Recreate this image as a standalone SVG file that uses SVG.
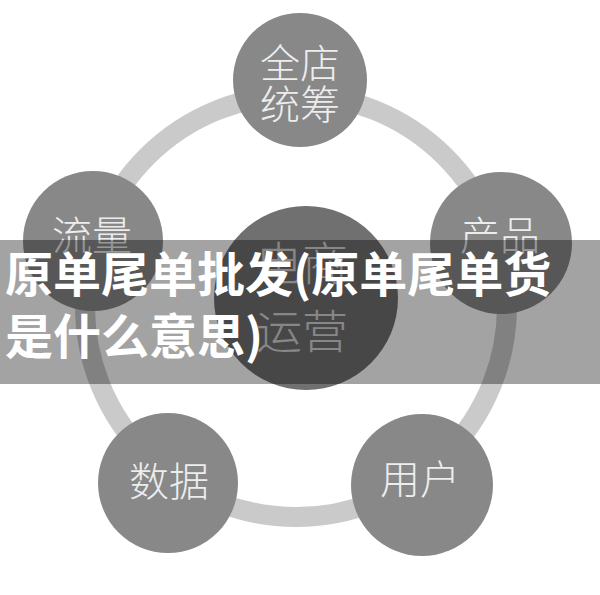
<svg xmlns="http://www.w3.org/2000/svg" width="600" height="595" viewBox="0 0 600 595">
<style>
.ring{fill:none;stroke:#cacaca;stroke-width:20}
.outer{fill:#888888}
.center{fill:#707070}
.lbl{font-family:"Noto Sans CJK SC","Noto Sans",sans-serif;font-weight:300;font-size:40px;fill:#ededed;text-anchor:middle}
.clbl{font-family:"Noto Sans CJK SC","Noto Sans",sans-serif;font-weight:300;font-size:46px;fill:#d4d4d4;text-anchor:middle}
.banner{fill:#000;fill-opacity:0.36}
.btxt{font-family:"Noto Sans CJK SC","Noto Sans",sans-serif;font-weight:700;font-size:48px;fill:#ffffff}
</style>
<rect width="600" height="595" fill="#ffffff"/>
<g id="connectors">
<circle class="ring" cx="296" cy="306" r="211"/>
</g>
<g id="node-center">
<circle class="center" cx="306" cy="298" r="92"/>
<text class="clbl" x="302" y="280">电商</text>
<text class="clbl" x="302" y="348">运营</text>
</g>
<g id="node-top">
<circle class="outer" cx="300" cy="80" r="67"/>
<text class="lbl" x="300" y="78">全店</text>
<text class="lbl" x="300" y="119">统筹</text>
</g>
<g id="node-left">
<circle class="outer" cx="93" cy="241" r="70"/>
<text class="lbl" x="92" y="250">流量</text>
</g>
<g id="node-right">
<circle class="outer" cx="501" cy="243" r="71"/>
<text class="lbl" x="500" y="250">产品</text>
</g>
<g id="node-bottom-left">
<circle class="outer" cx="168" cy="483" r="70"/>
<text class="lbl" x="169" y="496">数据</text>
</g>
<g id="node-bottom-right">
<circle class="outer" cx="422" cy="485" r="71"/>
<text class="lbl" x="420" y="494">用户</text>
</g>
<g id="banner">
<rect class="banner" x="0" y="240" width="600" height="144"/>
<text class="btxt" x="5" y="292">原单尾单批发(原单尾单货</text>
<text class="btxt" x="5" y="354">是什么意思)</text>
</g>
</svg>
